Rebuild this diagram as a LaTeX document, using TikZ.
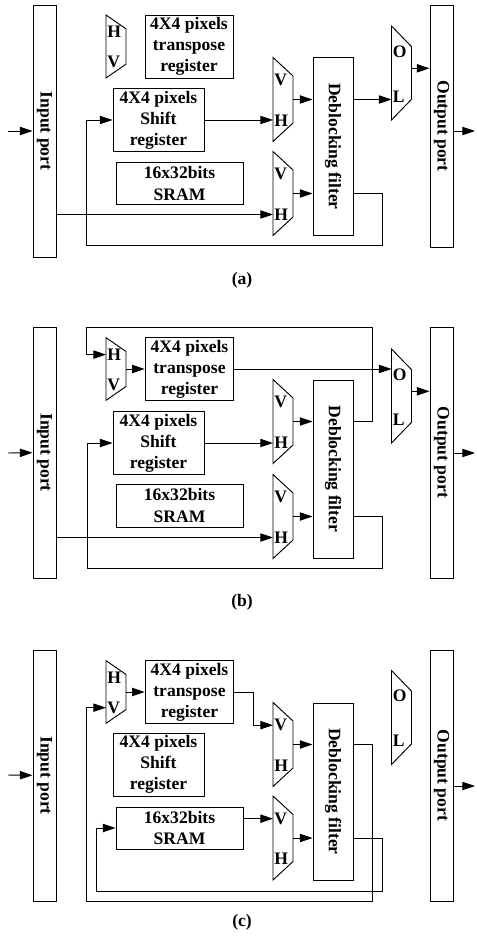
\documentclass[tikz,border=0pt]{standalone}
\usepackage{fontspec}
\setmainfont{Liberation Serif}
\usepackage{graphicx}
\usetikzlibrary{arrows.meta,calc}

\begin{document}
\begin{tikzpicture}[x=0.03cm,y=-0.03cm,>={Triangle[length=3.8mm,width=2.5mm]},line width=.8pt,
 font=\fontsize{15}{18}\selectfont\bfseries,
 p/.style={draw,minimum width=.69cm,minimum height=7.53cm,inner sep=0pt},
 b/.style={draw,align=center,inner sep=0pt,minimum width=2.73cm,minimum height=1.87cm},
 m/.style={minimum width=.6cm,minimum height=2.52cm,inner sep=0pt,outer sep=0pt},
 t/.style={anchor=west,inner sep=0pt}]
\useasboundingbox (0,0) rectangle (476,937);
% (a) horizontal edges filtered first, vertical path kept apart.
\node[p,minimum height=7.56cm] (inA) at (44.5,131) {\rotatebox{-90}{Input port}};
\node[p,minimum height=7.26cm] (outA) at (441.5,126) {\rotatebox{-90}{Output port}};
\node[m,minimum height=1.89cm] (hvA) at (116,46.5) {};
\node[b,minimum width=2.64cm,minimum height=1.89cm] (trA) at (189,46.5) {4X4 pixels\\transpose\\register};
\node[b] (shA) at (158.5,120) {4X4 pixels\\Shift\\register};
\node[b,minimum width=3.81cm,minimum height=1.26cm] (srA) at (179.5,183.5) {16x32bits\\SRAM};
\node[m] (vaA) at (283,99.5) {};
\node[m] (vbA) at (283,193.5) {};
\node[b,minimum width=1.2cm,minimum height=5.34cm] (dbA) at (333,146.5) {\rotatebox{-90}{Deblocking filter}};
\node[m,minimum height=2.82cm] (olA) at (401.5,73) {};
\node (capA) at (242,280) {(a)};
% (b) transpose path feeds the output selector.
\node[p] (inB) at (44.5,452.5) {\rotatebox{-90}{Input port}};
\node[p] (outB) at (441.5,452.5) {\rotatebox{-90}{Output port}};
\node[m,minimum height=1.88cm] (hvB) at (116,369) {};
\node[b,minimum width=2.66cm,minimum height=1.88cm] (trB) at (189.5,369) {4X4 pixels\\transpose\\register};
\node[b] (shB) at (158.5,443) {4X4 pixels\\Shift\\register};
\node[b,minimum width=3.81cm,minimum height=1.29cm] (srB) at (179.5,505.5) {16x32bits\\SRAM};
\node[m] (vaB) at (283,421.5) {};
\node[m] (vbB) at (283,516.5) {};
\node[b,minimum width=1.2cm,minimum height=5.34cm] (dbB) at (333,469) {\rotatebox{-90}{Deblocking filter}};
\node[m,minimum height=2.82cm] (olB) at (401.5,396) {};
\node (capB) at (242,602) {(b)};
% (c) transpose and SRAM loops, output selector idle.
\node[p] (inC) at (44.5,775.5) {\rotatebox{-90}{Input port}};
\node[p] (outC) at (441.5,775.5) {\rotatebox{-90}{Output port}};
\node[m,minimum height=1.88cm] (hvC) at (116,692) {};
\node[b,minimum width=2.66cm,minimum height=1.88cm] (trC) at (189.5,692) {4X4 pixels\\transpose\\register};
\node[b,minimum height=1.89cm] (shC) at (158.5,764.5) {4X4 pixels\\Shift\\register};
\node[b,minimum width=3.81cm,minimum height=1.26cm] (srC) at (179.5,828) {16x32bits\\SRAM};
\node[m] (vaC) at (283,744.5) {};
\node[m] (vbC) at (283,838) {};
\node[b,minimum width=1.2cm,minimum height=5.31cm] (dbC) at (333,791.5) {\rotatebox{-90}{Deblocking filter}};
\node[m,minimum height=2.82cm] (olC) at (401.5,717.5) {};
\node (capC) at (242,922) {(c)};
% mux outlines and select letters
\foreach \n/\u/\l in {hvA/H/V,vaA/V/H,vbA/V/H,olA/O/L,hvB/H/V,vaB/V/H,vbB/V/H,olB/O/L,
                      hvC/H/V,vaC/V/H,vbC/V/H,olC/O/L} {
  \draw (\n.north west) -- ($(\n.north east)!.22!(\n.south east)$)
        -- ($(\n.south east)!.22!(\n.north east)$) -- (\n.south west) -- cycle;
  \node[t] (\n1) at ($(\n.north west)!.27!(\n.south west)+(1,0)$) {\u};
  \node[t] (\n2) at ($(\n.south west)!.25!(\n.north west)+(1,0)$) {\l};
}
% connectors (a)
\coordinate (iA) at (8,131);
\coordinate (oA) at (475,131);
\draw[->] (iA) -- (inA);
\draw[->] (outA.east |- oA) -- (oA);
\draw[->] (inA.east |- vbA2) -- (vbA.west |- vbA2);
\draw[->] (shA) -- (vaA.west |- shA);
\draw[->] (vaA) -- (dbA.west |- vaA);
\draw[->] (vbA) -- (dbA.west |- vbA);
\draw[->] (dbA.east |- vaA) -- (olA.west |- vaA);
\draw[->] ([yshift=4pt]olA.east) -- ([yshift=4pt]outA.west |- olA.east);
\draw[->] (dbA.east |- vbA) -- ++(29,0) |- (86,245) |- (shA);
% connectors (b)
\coordinate (iB) at (8,453);
\coordinate (oB) at (475,453);
\draw[->] (iB) -- (inB);
\draw[->] (outB.east |- oB) -- (oB);
\draw[->] (inB.east |- vbB2) -- (vbB.west |- vbB2);
\draw[->] (shB) -- (vaB.west |- shB);
\draw[->] (vaB) -- (dbB.west |- vaB);
\draw[->] (vbB) -- (dbB.west |- vbB);
\draw[->] (dbB.east |- vaB) -- ++(19,0) |- (86,327) |- (hvB.west |- hvB1);
\draw[->] (hvB) -- (trB);
\draw[->] (trB) -- (olB.west |- trB);
\draw[->] ([yshift=4pt]olB.east) -- ([yshift=4pt]outB.west |- olB.east);
\draw[->] (dbB.east |- vbB) -- ++(29,0) |- (87,568) |- (shB);
% connectors (c)
\coordinate (iC) at (8,775);
\coordinate (oC) at (475,786);
\draw[->] (iC) -- (inC);
\draw[->] (outC.east |- oC) -- (oC);
\draw[->] (hvC) -- (trC);
\draw[->] (trC.east) -- ++(19,0) |- (vaC.west |- vaC1);
\draw[->] (vaC) -- (dbC.west |- vaC);
\draw[->] (srC.east |- vbC1) -- (vbC.west |- vbC1);
\draw[->] (vbC) -- (dbC.west |- vbC);
\draw[->] (dbC.east |- vaC) -- ++(19,0) |- (86,901) |- (hvC.west |- hvC2);
\draw[->] (dbC.east |- vbC) -- ++(29,0) |- (96,891) |- (srC);
\end{tikzpicture}
\end{document}
